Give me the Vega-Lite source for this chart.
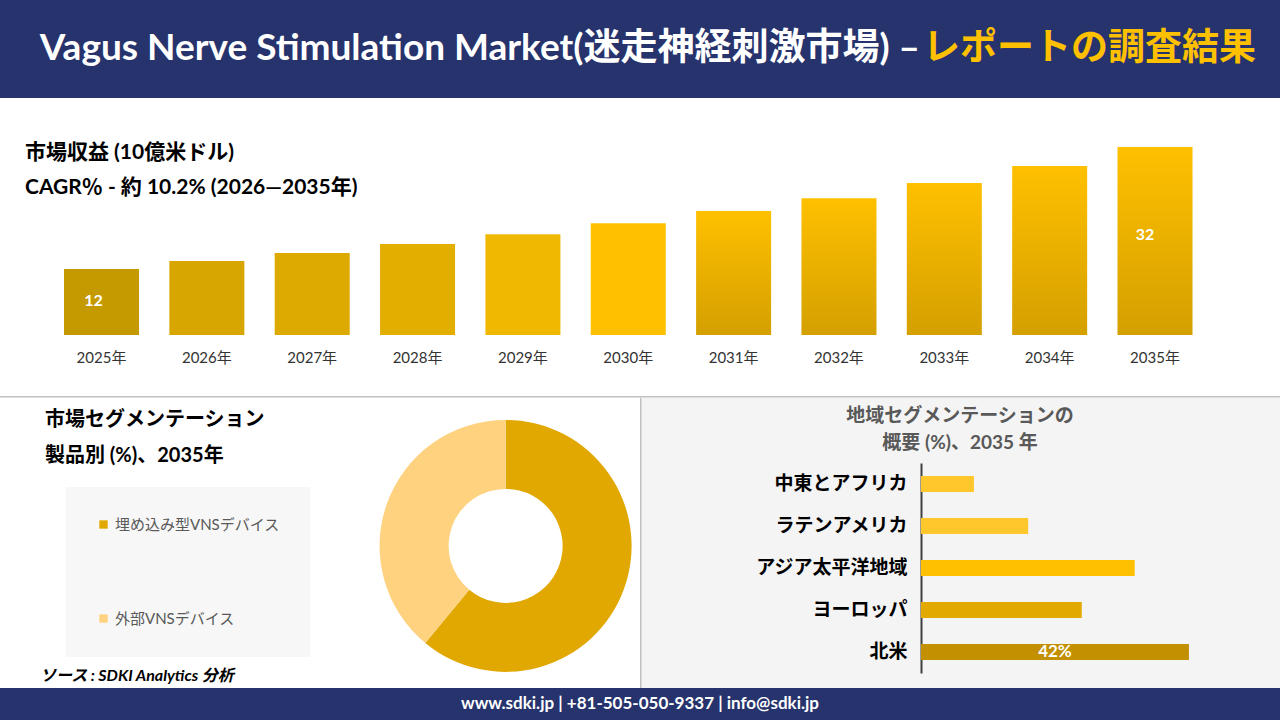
{
  "$schema": "https://vega.github.io/schema/vega-lite/v6.json",
  "padding": 0,
  "background": "#ffffff",
  "spacing": 0,
  "config": {
    "view": {"stroke": null},
    "concat": {"spacing": 0},
    "font": "Lato, 'Noto Sans CJK JP'"
  },
  "resolve": {"scale": {"color": "independent", "x": "independent", "y": "independent"}},
  "vconcat": [
    {
      "width": 1280,
      "height": 98,
      "view": {"fill": "#26336c", "stroke": null},
      "data": {"values": [
        {"part": "main", "text": "Vagus Nerve Stimulation Market(迷走神経刺激市場) –"},
        {"part": "accent", "text": "レポートの調査結果"}
      ]},
      "layer": [
        {
          "transform": [{"filter": "datum.part === 'main'"}],
          "mark": {"type": "text", "align": "right", "baseline": "middle", "dx": 280, "fontSize": 37, "fontWeight": "bold", "color": "#ffffff"},
          "encoding": {"text": {"field": "text"}}
        },
        {
          "transform": [{"filter": "datum.part === 'accent'"}],
          "mark": {"type": "text", "align": "left", "baseline": "middle", "dx": 283, "fontSize": 37, "fontWeight": "bold", "color": "#ffc000"},
          "encoding": {"text": {"field": "text"}}
        }
      ]
    },
    {
      "width": 1280,
      "height": 300,
      "view": {"fill": "#ffffff", "stroke": null},
      "title": {
        "text": "市場収益 (10億米ドル)",
        "subtitle": "CAGR％ - 約 10.2% (2026―2035年)",
        "anchor": "start",
        "frame": "group",
        "orient": "top",
        "offset": -100,
        "dx": 25,
        "fontSize": 21,
        "fontWeight": "bold",
        "color": "#000000",
        "subtitleFontSize": 21,
        "subtitleFontWeight": "bold",
        "subtitleColor": "#000000",
        "subtitlePadding": 14
      },
      "data": {"values": [
        {"year": "2025年", "value": 12},
        {"year": "2026年", "value": 13.3},
        {"year": "2027年", "value": 14.6},
        {"year": "2028年", "value": 16.1},
        {"year": "2029年", "value": 17.7},
        {"year": "2030年", "value": 19.5},
        {"year": "2031年", "value": 21.5},
        {"year": "2032年", "value": 23.6},
        {"year": "2033年", "value": 26.1},
        {"year": "2034年", "value": 28.9},
        {"year": "2035年", "value": 32}
      ]},
      "layer": [
        {
          "transform": [{"filter": {"field": "year", "oneOf": ["2025年", "2026年", "2027年", "2028年", "2029年", "2030年"]}}],
          "mark": {"type": "bar"},
          "encoding": {
            "x": {
              "field": "year",
              "type": "ordinal",
              "sort": null,
              "scale": {
                "domain": ["2025年", "2026年", "2027年", "2028年", "2029年", "2030年", "2031年", "2032年", "2033年", "2034年", "2035年"],
                "paddingInner": 0.288,
                "paddingOuter": 0.719,
                "align": 0.4225
              },
              "axis": {"title": null, "orient": "bottom", "offset": -63, "domain": false, "ticks": false, "labelPadding": 15, "labelFontSize": 15, "labelColor": "#333333", "labelAngle": 0}
            },
            "y": {"field": "value", "type": "quantitative", "scale": {"domain": [-9.15, 40.03], "zero": false, "nice": false}, "axis": null},
            "y2": {"datum": 1.18},
            "color": {
              "field": "year",
              "type": "nominal",
              "scale": {
                "domain": ["2025年", "2026年", "2027年", "2028年", "2029年", "2030年"],
                "range": ["#c49a00", "#d8a600", "#dcaa00", "#e2ae00", "#f0b800", "#ffc000"]
              },
              "legend": null
            }
          }
        },
        {
          "transform": [{"filter": {"field": "year", "oneOf": ["2031年", "2032年", "2033年", "2034年", "2035年"]}}],
          "mark": {
            "type": "bar",
            "color": {
              "gradient": "linear",
              "x1": 0, "y1": 0, "x2": 0, "y2": 1,
              "stops": [{"offset": 0, "color": "#ffc000"}, {"offset": 1, "color": "#d4a000"}]
            }
          },
          "encoding": {
            "x": {
              "field": "year",
              "type": "ordinal",
              "sort": null,
              "scale": {
                "domain": ["2025年", "2026年", "2027年", "2028年", "2029年", "2030年", "2031年", "2032年", "2033年", "2034年", "2035年"],
                "paddingInner": 0.288,
                "paddingOuter": 0.719,
                "align": 0.4225
              },
              "axis": {"title": null, "orient": "bottom", "offset": -63, "domain": false, "ticks": false, "labelPadding": 15, "labelFontSize": 15, "labelColor": "#333333", "labelAngle": 0}
            },
            "y": {"field": "value", "type": "quantitative", "scale": {"domain": [-9.15, 40.03], "zero": false, "nice": false}, "axis": null},
            "y2": {"datum": 1.18}
          }
        },
        {
          "transform": [{"filter": {"field": "year", "equal": "2025年"}}],
          "mark": {"type": "text", "color": "#ffffff", "fontWeight": "bold", "fontSize": 16, "baseline": "middle", "dx": -8, "dy": 32},
          "encoding": {
            "x": {"field": "year", "type": "ordinal", "sort": null, "axis": {"title": null, "orient": "bottom", "offset": -63, "domain": false, "ticks": false, "labelPadding": 15, "labelFontSize": 15, "labelColor": "#333333", "labelAngle": 0}},
            "y": {"field": "value", "type": "quantitative", "axis": null},
            "text": {"field": "value", "type": "quantitative", "format": ".0f"}
          }
        },
        {
          "transform": [{"filter": {"field": "year", "equal": "2035年"}}],
          "mark": {"type": "text", "color": "#ffffff", "fontWeight": "bold", "fontSize": 16, "baseline": "middle", "dx": -10, "dy": 88},
          "encoding": {
            "x": {"field": "year", "type": "ordinal", "sort": null, "axis": {"title": null, "orient": "bottom", "offset": -63, "domain": false, "ticks": false, "labelPadding": 15, "labelFontSize": 15, "labelColor": "#333333", "labelAngle": 0}},
            "y": {"field": "value", "type": "quantitative", "axis": null},
            "text": {"field": "value", "type": "quantitative", "format": ".0f"}
          }
        },
        {
          "data": {"values": [{"edge": "separator"}]},
          "mark": {"type": "rule", "color": "#c0c0c0", "strokeWidth": 1.5, "clip": true},
          "encoding": {"y": {"datum": -8.95, "type": "quantitative", "axis": null}}
        }
      ]
    },
    {
      "spacing": 0,
      "resolve": {"scale": {"color": "independent", "x": "independent", "y": "independent"}},
      "hconcat": [
        {
          "width": 640,
          "height": 290,
          "view": {"fill": "#ffffff", "stroke": null},
          "title": {
            "text": "市場セグメンテーション",
            "subtitle": "製品別 (%)、2035年",
            "anchor": "start",
            "frame": "group",
            "orient": "top",
            "offset": -68,
            "dx": 45,
            "fontSize": 20,
            "fontWeight": "bold",
            "color": "#000000",
            "subtitleFontSize": 20,
            "subtitleFontWeight": "bold",
            "subtitleColor": "#000000",
            "subtitlePadding": 16
          },
          "layer": [
            {
              "data": {"values": [
                {"segment": "埋め込み型VNSデバイス", "share": 61},
                {"segment": "外部VNSデバイス", "share": 39}
              ]},
              "mark": {"type": "arc", "outerRadius": 126, "innerRadius": 57},
              "encoding": {
                "theta": {"field": "share", "type": "quantitative", "stack": true},
                "order": {"field": "share", "type": "quantitative", "sort": "descending"},
                "color": {
                  "field": "segment",
                  "type": "nominal",
                  "scale": {"domain": ["埋め込み型VNSデバイス", "外部VNSデバイス"], "range": ["#e0a800", "#ffd280"]},
                  "legend": {
                    "orient": "none",
                    "legendX": 66,
                    "legendY": 89,
                    "title": null,
                    "fillColor": "#f7f7f7",
                    "padding": 30,
                    "symbolType": "square",
                    "symbolSize": 70,
                    "symbolStrokeWidth": 0,
                    "labelFontSize": 15,
                    "labelColor": "#595959",
                    "labelLimit": 300,
                    "rowPadding": 78
                  }
                },
                "x": {"datum": 0.79, "type": "quantitative", "scale": {"domain": [0, 1], "nice": false}, "axis": null},
                "y": {"datum": 0.51, "type": "quantitative", "scale": {"domain": [0, 1], "nice": false, "reverse": true}, "axis": null}
              }
            },
            {
              "data": {"values": [{"source": "ソース : SDKI Analytics 分析"}]},
              "mark": {"type": "text", "align": "left", "baseline": "middle", "fontStyle": "italic", "fontWeight": "bold", "fontSize": 16, "color": "#000000"},
              "encoding": {
                "text": {"field": "source"},
                "x": {"datum": 0.0625, "type": "quantitative", "scale": {"domain": [0, 1], "nice": false}, "axis": null},
                "y": {"datum": 0.959, "type": "quantitative", "scale": {"domain": [0, 1], "nice": false, "reverse": true}, "axis": null}
              }
            }
          ]
        },
        {
          "width": 640,
          "height": 290,
          "view": {"fill": "#f4f4f4", "stroke": null},
          "title": {
            "text": ["地域セグメンテーションの", "概要 (%)、2035 年"],
            "anchor": "middle",
            "frame": "group",
            "orient": "top",
            "offset": -55,
            "fontSize": 19,
            "lineHeight": 27,
            "fontWeight": "bold",
            "color": "#595959"
          },
          "data": {"values": [
            {"region": "中東とアフリカ", "share": 0.083},
            {"region": "ラテンアメリカ", "share": 0.168},
            {"region": "アジア太平洋地域", "share": 0.335},
            {"region": "ヨーロッパ", "share": 0.252},
            {"region": "北米", "share": 0.42}
          ]},
          "layer": [
            {
              "mark": {"type": "bar"},
              "encoding": {
                "y": {
                  "field": "region",
                  "type": "nominal",
                  "sort": null,
                  "scale": {
                    "domain": ["中東とアフリカ", "ラテンアメリカ", "アジア太平洋地域", "ヨーロッパ", "北米"],
                    "range": [65, 275],
                    "paddingInner": 0.619,
                    "paddingOuter": 0.31
                  },
                  "axis": {
                    "title": null,
                    "orient": "left",
                    "offset": -281,
                    "domain": true,
                    "domainColor": "#404040",
                    "domainWidth": 2,
                    "ticks": false,
                    "labelPadding": 14,
                    "labelFontSize": 19,
                    "labelFontWeight": "bold",
                    "labelColor": "#000000",
                    "labelLimit": 300
                  }
                },
                "x": {"field": "share", "type": "quantitative", "scale": {"domain": [-0.4404, 0.5627], "nice": false, "zero": false}, "axis": null},
                "color": {
                  "field": "region",
                  "type": "nominal",
                  "scale": {
                    "domain": ["中東とアフリカ", "ラテンアメリカ", "アジア太平洋地域", "ヨーロッパ", "北米"],
                    "range": ["#ffc72c", "#ffc72c", "#ffc000", "#e2aa00", "#c29000"]
                  },
                  "legend": null
                }
              }
            },
            {
              "transform": [{"filter": {"field": "region", "equal": "北米"}}],
              "mark": {"type": "text", "color": "#ffffff", "fontWeight": "bold", "fontSize": 17, "baseline": "middle", "dx": -134},
              "encoding": {
                "y": {
                  "field": "region",
                  "type": "nominal",
                  "sort": null,
                  "axis": {
                    "title": null,
                    "orient": "left",
                    "offset": -281,
                    "domain": true,
                    "domainColor": "#404040",
                    "domainWidth": 2,
                    "ticks": false,
                    "labelPadding": 14,
                    "labelFontSize": 19,
                    "labelFontWeight": "bold",
                    "labelColor": "#000000",
                    "labelLimit": 300
                  }
                },
                "x": {"field": "share", "type": "quantitative", "axis": null},
                "text": {"field": "share", "type": "quantitative", "format": ".0%"}
              }
            },
            {
              "data": {"values": [{"edge": "panel border"}]},
              "mark": {"type": "rule", "color": "#c0c0c0", "strokeWidth": 1.5, "clip": true},
              "encoding": {"x": {"datum": -0.4392, "type": "quantitative", "axis": null}}
            }
          ]
        }
      ]
    },
    {
      "width": 1280,
      "height": 32,
      "view": {"fill": "#26336c", "stroke": null},
      "data": {"values": [{"t": "www.sdki.jp | +81-505-050-9337 | info@sdki.jp"}]},
      "mark": {"type": "text", "color": "#ffffff", "fontSize": 17, "fontWeight": "bold", "baseline": "middle"},
      "encoding": {"text": {"field": "t"}}
    }
  ]
}
